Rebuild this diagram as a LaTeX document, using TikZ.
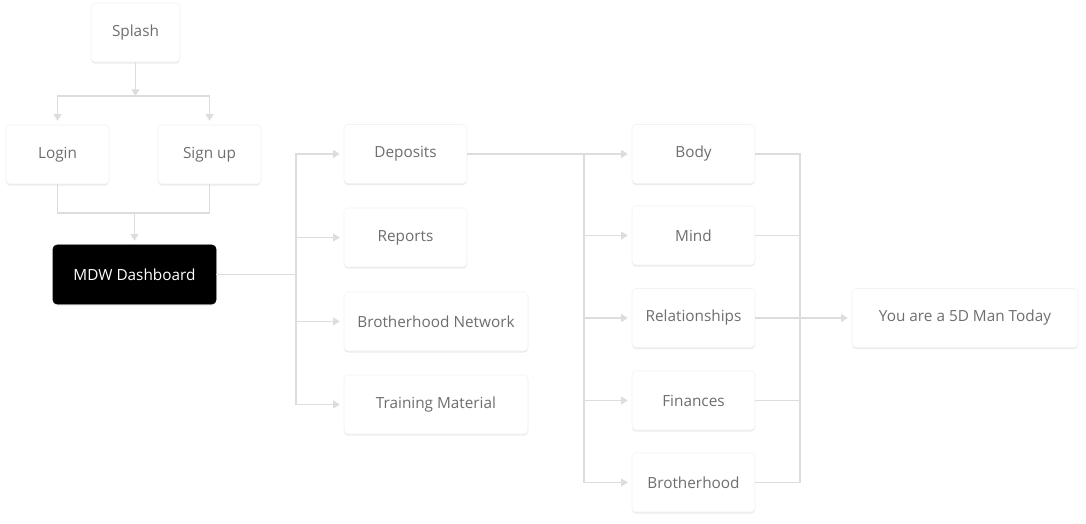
\documentclass[tikz,border=0pt]{standalone}
\usepackage{fontspec}
\setmainfont{Open Sans}
\usetikzlibrary{arrows.meta,shadows}
\definecolor{WireGray}{HTML}{DDDDDD}
\definecolor{LabelGray}{HTML}{6E6E6E}
\def\px{0.75pt}
\tikzset{
  screen/.style={rectangle, draw=black!5, fill=white, rounded corners=3pt,
    text=LabelGray, minimum height=59*\px, inner sep=0pt,
    font=\fontsize{11.5}{14}\selectfont,
    drop shadow={shadow xshift=0pt, shadow yshift=-1.2pt, opacity=0.08, fill=black}},
  hub/.style={screen, draw=black, fill=black, text=white},
  wire/.style={draw=WireGray, line width=0.8pt},
  flow/.style={wire, -{Triangle[width=6pt,length=5pt]}},
  flowin/.style={flow, shorten >=3pt},
}

\begin{document}
\begin{tikzpicture}[x=0.75pt, y=-0.75pt]
      \useasboundingbox (0,0) rectangle (1086,524);

      % entry screens
      \node (splash) [screen, minimum width=89*\px] at (135.5,32.5) {Splash};
      \node (login) [screen, minimum width=103*\px] at (57.5,154.5) {Login};
      \node (signup) [screen, minimum width=103*\px] at (209.5,154.5) {Sign up};
      \node (dash) [hub, minimum width=163*\px] at (134.5,274.5) {MDW Dashboard};

      % dashboard sections
      \node (deposits) [screen, minimum width=123*\px] at (405.5,154) {Deposits};
      \node (reports) [screen, minimum width=123*\px] at (405.5,237.5) {Reports};
      \node (network) [screen, minimum width=184*\px] at (436,321.5) {Brotherhood Network};
      \node (training) [screen, minimum width=184*\px] at (436,404.5) {Training Material};

      % five dimensions
      \node (body) [screen, minimum width=123*\px] at (693.5,154) {Body};
      \node (mind) [screen, minimum width=123*\px] at (693.5,235.5) {Mind};
      \node (relations) [screen, minimum width=123*\px] at (693.5,318) {Relationships};
      \node (finances) [screen, minimum width=123*\px] at (693.5,400.5) {Finances};
      \node (brotherhood) [screen, minimum width=123*\px] at (693.5,482.5) {Brotherhood};

      \node (goal) [screen, minimum width=226*\px] at (965,318) {You are a 5D Man Today};

      % splash -> login / sign up
      \coordinate (split) at (135.5,96);
      \draw[flow] (splash) -- (split);
      \draw[flowin] (split) -| (login);
      \draw[flowin] (split) -| (signup);

      % login / sign up -> dashboard
      \coordinate (join) at (134.5,213);
      \draw[wire] (login) |- (join) -| (signup);
      \draw[flowin] (join) -- (dash);

      % dashboard -> sections
      \coordinate (busA) at (296,274.5);
      \draw[wire] (dash) -- (busA);
      \draw[flowin] (busA) |- (deposits);
      \draw[flowin] (busA) |- (reports);
      \draw[flowin] (busA) |- (network);
      \draw[flowin] (busA) |- (training);

      % deposits -> dimensions
      \coordinate (busB) at (584,154);
      \draw[wire] (deposits) -- (busB);
      \draw[flowin] (busB) -- (body);
      \draw[flowin] (busB) |- (mind);
      \draw[flowin] (busB) |- (relations);
      \draw[flowin] (busB) |- (finances);
      \draw[flowin] (busB) |- (brotherhood);

      % dimensions -> result
      \coordinate (busC) at (800,318);
      \draw[wire] (body) -| (busC);
      \draw[wire] (mind) -| (busC);
      \draw[wire] (relations) -- (busC);
      \draw[wire] (finances) -| (busC);
      \draw[wire] (brotherhood) -| (busC);
      \draw[flowin] (busC) -- (goal);
\end{tikzpicture}
\end{document}
